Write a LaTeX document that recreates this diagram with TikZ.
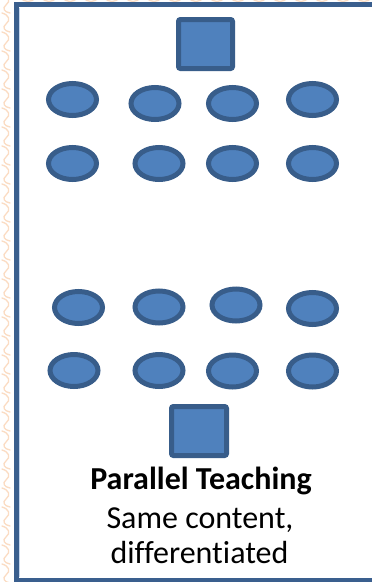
\documentclass[tikz,border=0pt]{standalone}
\usepackage{fontspec}
\setmainfont{Carlito}[RawFeature={-liga;-clig;-dlig;-calt}]
\usetikzlibrary{shapes.geometric}
\definecolor{deskfill}{HTML}{4F81BD}
\definecolor{deskline}{HTML}{385D8A}
\definecolor{frameline}{HTML}{3A5F8E}
\definecolor{frameinner}{HTML}{C6D7EE}
\definecolor{chain}{HTML}{FBDCC3}
\tikzset{
  desk/.style={draw=deskline, fill=deskfill, line width=5pt, ellipse, minimum width=48pt, minimum height=32pt, inner sep=0pt},
  teacher/.style={draw=deskline, fill=deskfill, line width=5pt, rectangle, rounded corners=2pt, inner sep=0pt},
  caption/.style={anchor=base, inner sep=0pt, font=\fontsize{32}{38}\selectfont}
}
\begin{document}
\begin{tikzpicture}[x=1pt, y=-1pt]
\useasboundingbox (0,0) rectangle (372,582);
\fill[white] (0,0) rectangle (372,582);

% faint chain texture on the page margin
\begin{scope}
  \clip (0,0) rectangle (14,582);
  \foreach \k in {0,...,30} {
    \pgfmathsetmacro{\yy}{\k*19-6}
    \draw[chain, line width=1.3pt, line cap=round]
      (2,\yy) .. controls (9,\yy+2) and (11,\yy+7) .. (6,\yy+11)
      .. controls (2,\yy+14) and (4,\yy+18) .. (10,\yy+19);
  }
\end{scope}
\begin{scope}
  \clip (14,0) rectangle (372,2.2);
  \foreach \k in {0,...,18} {
    \pgfmathsetmacro{\xx}{\k*21+20}
    \draw[chain, line width=1.3pt] (\xx,-3) .. controls (\xx+4,3) and (\xx+12,3) .. (\xx+16,-3);
  }
\end{scope}

% room outline
\draw[frameinner, line width=0.6pt] (19.6,7.5) -- (19.6,577);
\draw[frameline, line width=5pt] (372,4.5) -- (16.5,4.5) -- (16.5,580) -- (372,580);

% teacher desks
\node[teacher, minimum width=54pt, minimum height=49pt] (t1) at (205.5,44) {};
\node[teacher, minimum width=55pt, minimum height=49pt] (t2) at (199,431) {};

% student desks, group one
\node[desk] (a1) at (72.5,99.5) {};
\node[desk] (a2) at (155,103.5) {};
\node[desk] (a3) at (232.5,103.5) {};
\node[desk] (a4) at (312.5,99.5) {};
\node[desk] (b1) at (72.5,163.5) {};
\node[desk] (b2) at (159,163.5) {};
\node[desk] (b3) at (232.5,163.5) {};
\node[desk] (b4) at (312.5,163.5) {};

% student desks, group two
\node[desk] (c1) at (78.5,307.5) {};
\node[desk] (c2) at (159,307) {};
\node[desk] (c3) at (236,305) {};
\node[desk] (c4) at (312.5,308.5) {};
\node[desk] (d1) at (74,370.5) {};
\node[desk] (d2) at (159,370.5) {};
\node[desk] (d3) at (232.5,371) {};
\node[desk] (d4) at (312.5,371) {};

% caption
\node[caption, font=\fontsize{32}{38}\selectfont\bfseries] (l1) at (201,489) {Parallel Teaching};
\node[caption] (l2) at (200,528) {Same content,};
\node[caption] (l3) at (199.5,563) {differentiated};
\end{tikzpicture}
\end{document}
